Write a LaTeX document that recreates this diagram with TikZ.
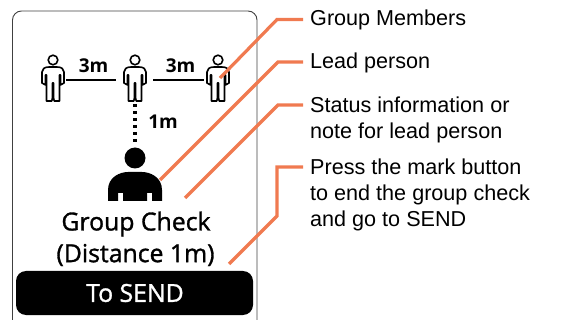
\documentclass[tikz,border=0pt]{standalone}
\usepackage{fontspec}
\setmainfont{Liberation Sans}
\newfontfamily\screenfont[RawFeature={embolden=1.2}]{Open Sans}
\newfontfamily\distfont{Open Sans}
\definecolor{leader}{RGB}{240,122,80}
\tikzset{
  x=1pt,y=-1pt,
  screenframe/.style={draw=black!75,line width=0.9pt,rounded corners=9pt},
  sendbar/.style={fill=black,rounded corners=10pt},
  leaderline/.style={draw=leader,line width=3.2pt,line join=miter},
  label/.style={anchor=west,inner sep=0pt,font=\fontsize{21.6pt}{25.6pt}\selectfont,align=left},
  screentext/.style={inner sep=0pt,font=\screenfont\fontsize{24.8pt}{30pt}\selectfont},
  dist/.style={inner sep=0pt,font=\distfont\bfseries\fontsize{19pt}{22pt}\selectfont},
  tie/.style={draw=black,line width=1.5pt},
  person/.pic={
    \draw[line width=1.6pt] (0,-20) circle (4.8);
    \draw[line width=1.6pt,line join=round,fill=white]
      (-4,-13) -- (4,-13) .. controls (8.5,-13) and (11,-11) .. (11,-8)
      -- (11,3) -- (7.5,5) -- (7.5,-5) -- (6.5,-5) -- (6.5,21) -- (1.2,21) -- (0.6,18) -- (0.6,3)
      -- (-0.6,3) -- (-0.6,18) -- (-1.2,21) -- (-6.5,21) -- (-6.5,-5) -- (-7.5,-5) -- (-7.5,5) -- (-11,3) -- (-11,-8)
      .. controls (-11,-11) and (-8.5,-13) .. (-4,-13) -- cycle;
  }
}
\begin{document}
\begin{tikzpicture}
\useasboundingbox (0,0) rectangle (562,320);
\begin{scope}
\clip (0,0) rectangle (562,320);
\draw[screenframe] (12.5,11) rectangle (257,330);
\end{scope}
\node[sendbar,minimum width=237pt,minimum height=44pt,inner sep=0pt] (bar) at (134.5,293) {};
\node[screentext,text=white] (send) at (135,293) {To SEND};
\node[screentext] (title) at (136,224) {Group Check};
\node[screentext] (distance) at (135.5,255) {(Distance 1m)};
\pic at (53,80) {person};
\pic at (135,80) {person};
\pic at (218,80) {person};
\coordinate (a1) at (66,80);\coordinate (a2) at (116,80);
\coordinate (b1) at (153,80);\coordinate (b2) at (204,80);
\draw[tie] (a1) -- (a2);
\draw[tie] (b1) -- (b2);
\node[dist] (d1) at (93.5,66) {3m};
\node[dist] (d2) at (180.5,66) {3m};
\node[dist] (d3) at (163,122) {1m};
\coordinate (v1) at (135,104);\coordinate (v2) at (135,146);
\draw[line width=3.5pt,dash pattern=on 3.5pt off 3.5pt] (v1) -- (v2);
\fill (135,158) circle (10.5);
\fill (108,201) -- (108,190) .. controls (108,177) and (120,172) .. (128,172) -- (142,172)
  .. controls (150,172) and (162,177) .. (162,190) -- (162,201) -- (152,201) -- (152,193) -- (147,193) -- (147,201)
  -- (123,201) -- (123,193) -- (118,193) -- (118,201) -- cycle;
\node[label] (l1) at (310,20) {Group Members};
\node[label] (l2) at (310,63) {Lead person};
\node[label] (l3) at (310,120) {Status information or\\note for lead person};
\node[label] (l4) at (310,195) {Press the mark button\\to end the group check\\and go to SEND};
\coordinate (p1) at (220,78);\coordinate (p2) at (160,180);
\coordinate (p3) at (185,198);\coordinate (p4) at (229,264);
\draw[leaderline] (p1) -- (277,19.5) -- (303,19.5);
\draw[leaderline] (p2) -- (278,62) -- (303,62);
\draw[leaderline] (p3) -- (278,105) -- (303,105);
\draw[leaderline] (p4) -- (277,216) -- (277,167) -- (303,167);
\end{tikzpicture}
\end{document}
